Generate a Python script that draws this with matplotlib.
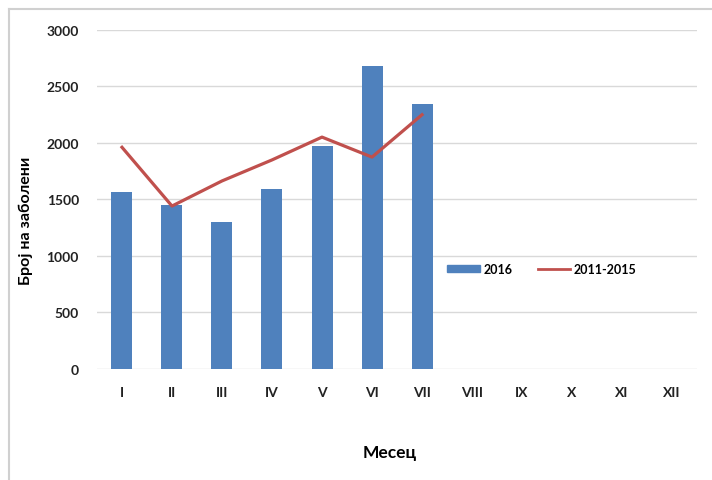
import matplotlib.pyplot as plt
from matplotlib.patches import Rectangle
from matplotlib.lines import Line2D

months = ["I", "II", "III", "IV", "V", "VI", "VII", "VIII", "IX", "X", "XI", "XII"]
cases_2016 = [1565, 1455, 1300, 1592, 1972, 2680, 2343]
avg_2011_2015 = [1962, 1442, 1664, 1850, 2052, 1875, 2250]

plt.rcParams['font.family'] = ['Lato', 'DejaVu Sans']
plt.rcParams['font.weight'] = 'bold'

fig = plt.figure(figsize=(7.12, 4.81), dpi=100)
ax = fig.add_axes([0.1362, 0.2308, 0.8428, 0.7048])

x = list(range(len(months)))
ax.bar(x[:len(cases_2016)], cases_2016, width=0.42, color="#4F81BD", zorder=2, label="2016")
ax.plot(x[:len(avg_2011_2015)], avg_2011_2015, color="#C0504D", linewidth=2.3, zorder=3, label="2011-2015")

ax.set_xlim(-0.5, len(months) - 0.5)
ax.set_ylim(0, 3000)
ax.set_yticks(range(0, 3001, 500))
ax.set_xticks(x)
ax.set_xticklabels(months)
ax.grid(axis='y', color="#D9D9D9", linewidth=1)
ax.set_axisbelow(True)
for s in ax.spines.values():
	s.set_visible(False)
ax.tick_params(length=0, labelsize=10, colors="#222222")
ax.tick_params(axis='x', pad=12)
ax.tick_params(axis='y', pad=13)

ax.set_ylabel("Број на заболени", fontsize=11.5, fontweight='bold')
ax.yaxis.set_label_coords(-0.107, 0.44)
ax.set_xlabel("Месец", fontsize=12.5, fontweight='bold')
ax.xaxis.set_label_coords(0.487, -0.22)

handles = [Rectangle((0, 0), 1, 1, color="#4F81BD"), Line2D([0], [0], color="#C0504D", linewidth=2)]
ax.legend(handles, ["2016", "2011-2015"], loc='center left', bbox_to_anchor=(0.565, 0.295),
	ncol=2, frameon=False, fontsize=9, handlelength=2.6, handleheight=0.45, columnspacing=2.0,
	handletextpad=0.3)

# outer chart frame (top and left visible in the source)
fig.add_artist(Line2D([9 / 712, 1], [1 - 10 / 481, 1 - 10 / 481], color="#D0D0D0", linewidth=1.5))
fig.add_artist(Line2D([9 / 712, 9 / 712], [0, 1 - 10 / 481], color="#D0D0D0", linewidth=1.5))

fig.savefig("out.png", dpi=100)
